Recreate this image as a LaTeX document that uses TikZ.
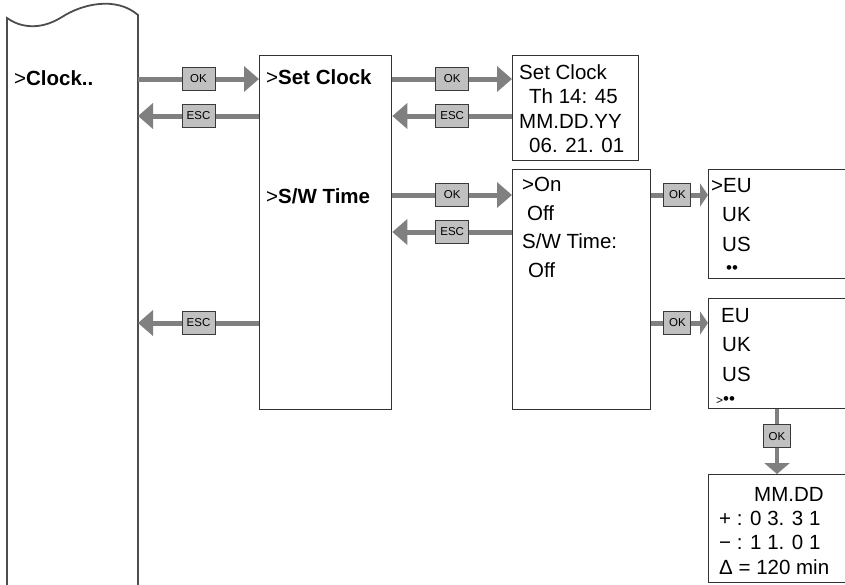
\documentclass[tikz,border=0pt]{standalone}
\usepackage{fontspec}
\setmainfont{Liberation Sans}
\usetikzlibrary{arrows.meta}

\definecolor{boxline}{HTML}{333333}
\definecolor{menuline}{HTML}{4D4D4D}
\definecolor{arrowgray}{HTML}{808080}
\definecolor{keyfill}{HTML}{C0C0C0}
\definecolor{keyline}{HTML}{3A3A3A}

\begin{document}
\begin{tikzpicture}[
    x=1pt, y=-1pt,
    font=\fontsize{20.5}{25}\selectfont,
    box/.style={
        draw=boxline,
        line width=1.3pt,
        anchor=north west,
        inner sep=0pt
    },
    disp/.style={
        anchor=north west,
        align=left,
        inner sep=0pt
    },
    label/.style={
        anchor=base west,
        inner sep=0pt
    },
    key/.style={
        draw=keyline,
        fill=keyfill,
        line width=1pt,
        font=\fontsize{11.5}{12}\selectfont,
        minimum width=33pt,
        minimum height=23pt,
        inner sep=0pt
    },
    smallkey/.style={
        key,
        minimum width=27pt
    },
    arrow/.style={
        draw=arrowgray,
        line width=5pt,
        -{Triangle[length=15pt, width=25pt]}
    },
    shortarrow/.style={
        arrow,
        -{Triangle[length=8pt, width=23pt]}
    },
    downarrow/.style={
        arrow,
        line width=4.5pt,
        -{Triangle[length=11pt, width=25pt]}
    }
]

\useasboundingbox (0,0) rectangle (845,584);
\clip (0,0) rectangle (845,584);

\draw[menuline, line width=1.8pt]
    (7,590) -- (7,18)
    .. controls (18,26) and (38,32) .. (62,17)
    .. controls (82,4) and (116,-4) .. (138,15)
    -- (138,590);
\coordinate (menuedge) at (138,0);

\node[label] (clocktxt) at (14,85) {>\textbf{Clock..}};

\node[box, minimum width=132pt, minimum height=354pt] (setclock) at (259,55) {};
\node[label] (setclocktxt) at (266,84) {>\textbf{Set Clock}};
\node[label] (swtimetxt) at (266,203) {>\textbf{S/W Time}};

\node[box, minimum width=126pt, minimum height=105pt] (clockdisp) at (512,55) {};
\node[disp, font=\fontsize{20.5}{24.5}\selectfont] (clocklines) at (519,64)
    {Set Clock\\\hspace*{10pt}Th 14: 45\\MM.DD.YY\\\hspace*{10pt}06. 21. 01};

\node[box, minimum width=138pt, minimum height=240pt] (swdisp) at (512,169) {};
\node[disp, font=\fontsize{20.5}{28.7}\selectfont] (swlines) at (522,177)
    {>On\\\hspace*{5pt}Off\\S/W Time:\\\hspace*{6pt}Off};

\node[box, minimum width=150pt, minimum height=109pt] (zonepick) at (708,169) {};
\node[disp, font=\fontsize{20.5}{29.5}\selectfont] (zonepicklines) at (711,178)
    {>EU\\\hspace*{11pt}UK\\\hspace*{11pt}US\\[-7.5pt]\hspace*{15pt}{\fontsize{17}{17}\selectfont ••}};

\node[box, minimum width=150pt, minimum height=110pt] (zonemenu) at (708,298) {};
\node[disp, font=\fontsize{20.5}{29.5}\selectfont] (zonemenulines) at (711,308)
    {\hspace*{10pt}EU\\\hspace*{11pt}UK\\\hspace*{11pt}US\\[-6.5pt]\hspace*{5pt}{\fontsize{12}{12}\selectfont >}{\fontsize{17}{17}\selectfont ••}};

\node[box, minimum width=150pt, minimum height=108pt] (dstdisp) at (708,474) {};
\node[disp, font=\fontsize{20.5}{24.3}\selectfont] (dstlines) at (719,487)
    {\hspace*{35pt}MM.DD\\+ : 0 3. 3 1\\− : 1 1. 0 1\\Δ = 120 min};

\coordinate (okA) at (0,79);
\coordinate (escA) at (0,116);
\coordinate (okB) at (0,195);
\coordinate (escB) at (0,232);
\coordinate (escC) at (0,323);
\coordinate (dncol) at (777,0);

\draw[arrow] (menuedge |- okA) -- node[key] {OK} (setclock.west |- okA);
\draw[arrow] (setclock.west |- escA) -- node[key] {ESC} (menuedge |- escA);
\draw[arrow] (setclock.east |- okA) -- node[key] {OK} (clockdisp.west |- okA);
\draw[arrow] (clockdisp.west |- escA) -- node[key] {ESC} (setclock.east |- escA);
\draw[arrow] (setclock.east |- okB) -- node[key] {OK} (swdisp.west |- okB);
\draw[arrow] (swdisp.west |- escB) -- node[key] {ESC} (setclock.east |- escB);
\draw[arrow] (setclock.west |- escC) -- node[key] {ESC} (menuedge |- escC);
\draw[shortarrow] (swdisp.east |- okB) -- node[smallkey, pos=0.46] {OK} (zonepick.west |- okB);
\draw[shortarrow] (swdisp.east |- escC) -- node[smallkey, pos=0.46] {OK} (zonemenu.west |- escC);
\draw[downarrow] (dncol |- zonemenu.south) -- node[smallkey, pos=0.42] {OK} (dncol |- dstdisp.north);

\end{tikzpicture}
\end{document}
